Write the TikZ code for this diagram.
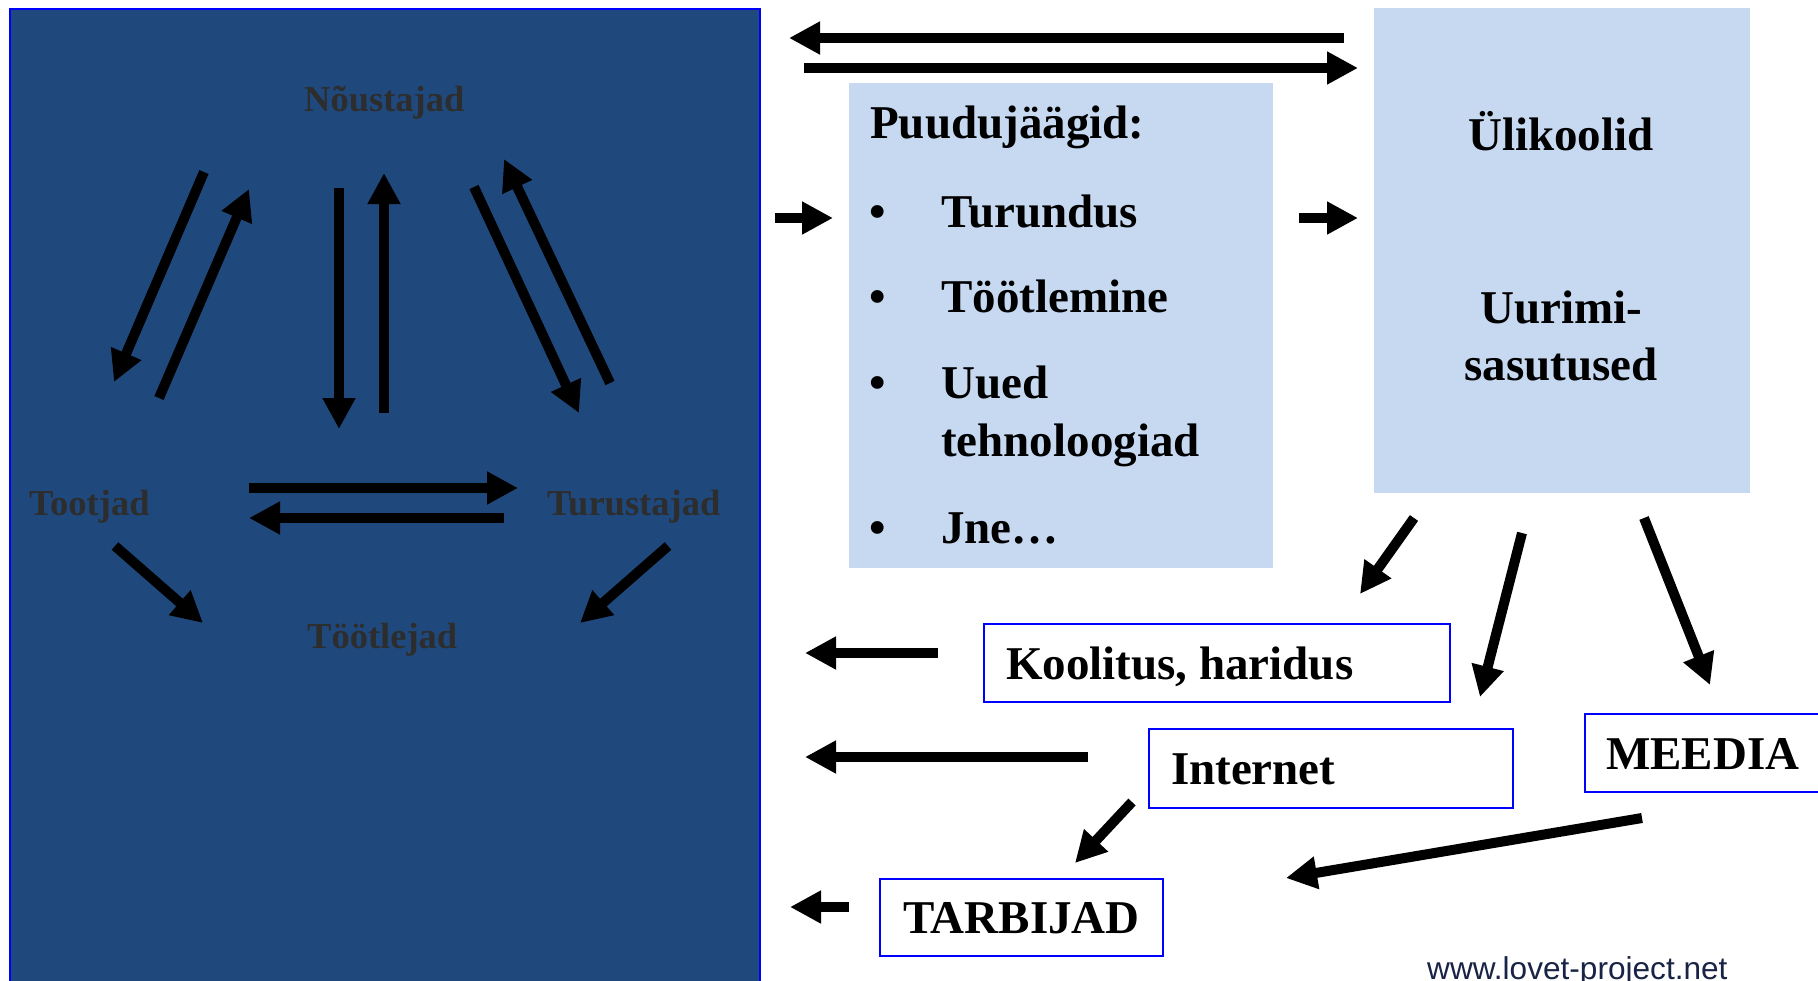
\documentclass[tikz,border=0pt]{standalone}
\usepackage{fontspec}
\setmainfont{Liberation Serif}
\newfontfamily\urlfont{Liberation Sans}
\usetikzlibrary{%
   arrows.meta,%
   positioning%
}
\definecolor{paneblue}{RGB}{31,73,125}
\definecolor{boxblue}{RGB}{198,217,241}
\definecolor{labelgray}{RGB}{45,45,45}
\definecolor{urlnavy}{RGB}{25,35,70}
\newcommand{\bigfont}{\fontsize{47}{56}\selectfont\bfseries}
\newcommand{\midfont}{\fontsize{36.5}{44}\selectfont\bfseries}
\frenchspacing

\begin{document}
\begin{tikzpicture}[x=1pt,y=-1pt,flow/.style={
	line width=10pt,
	-{Triangle[length=31pt,width=31pt]}
	},actor/.style={
	font=\midfont,text=labelgray,
	anchor=base west,inner sep=0pt
	},item/.style={
	font=\bigfont,anchor=base west,inner sep=0pt
	},lightbox/.style={
	fill=boxblue,inner sep=0pt,anchor=north west
	},framebox/.style={
	rectangle,draw=blue,line width=2pt,fill=white,
	font=\bigfont,anchor=north west,
	text height=32pt,text depth=0pt,
	inner xsep=22pt,inner ysep=0pt
	}
]
\useasboundingbox (0,0) rectangle (1818,980);

% left panel
\node (panel) [fill=paneblue,draw=blue,line width=2pt,inner sep=0pt,
	anchor=north west,minimum width=750pt,minimum height=990pt] at (9,8) {};
\node (noust) [actor] at (304,111) {Nõustajad};
\node (tootj) [actor] at (29,515) {Tootjad};
\node (turust) [actor] at (547,515) {Turustajad};
\node (tootl) [actor] at (307,648) {Töötlejad};

% light boxes
\node (puud) [lightbox,minimum width=424pt,minimum height=485pt] at (849,83) {};
\node (ylik) [lightbox,minimum width=376pt,minimum height=485pt] at (1374,8) {};

\node (puudt) [item] at (870,138) {Puudujäägid:};
\foreach \y/\name/\txt in {227/turu/Turundus,312/tootle/Töötlemine,398/uued/Uued,543/jne/Jne…}{
	\node (b\name) [item] at (869,\y) {•};
	\node (\name) [item] at (941,\y) {\txt};
}
\node (tehno) [item] at (941,456) {tehnoloogiad};

\node (ylikt) [item,anchor=base] at (1561,150) {Ülikoolid};
\node (uuri) [item,anchor=base] at (1561,323) {Uurimi-};
\node (sasu) [item,anchor=base] at (1561,380) {sasutused};

% framed boxes
\node (kool) [framebox,text width=422pt,align=flush left,minimum height=78pt] at (983,623) {Koolitus, haridus};
\node (inter) [framebox,text width=320pt,align=flush left,minimum height=79pt] at (1148,728) {Internet};
\node (meed) [framebox,text width=218pt,align=flush left,minimum height=78pt,inner xsep=21pt] at (1584,713) {MEEDIA};
\node (tarb) [framebox,minimum width=283pt,minimum height=77pt] at (879,878) {TARBIJAD};

\node (web) [font=\urlfont\fontsize{31.6}{36}\selectfont,text=urlnavy,
	anchor=base west,inner sep=0pt] at (1427,979) {www.lovet-project.net};

%(x,y) arrow ends, panel
\coordinate (nA1) at (204,172); \coordinate (nA2) at (114,382);
\coordinate (nB1) at (159,398); \coordinate (nB2) at (249,189);
\coordinate (nC1) at (339,188); \coordinate (nC2) at (339,429);
\coordinate (nD1) at (384,413); \coordinate (nD2) at (384,173);
\coordinate (nE1) at (474,187); \coordinate (nE2) at (579,413);
\coordinate (nF1) at (610,383); \coordinate (nF2) at (504,159);
\coordinate (nG1) at (249,488); \coordinate (nG2) at (518,488);
\coordinate (nH1) at (504,518); \coordinate (nH2) at (249,518);
\coordinate (nI1) at (115,546); \coordinate (nI2) at (203,623);
\coordinate (nJ1) at (668,546); \coordinate (nJ2) at (580,623);
%(x,y) arrow ends, right side
\coordinate (tL1) at (1344,38); \coordinate (tL2) at (789,38);
\coordinate (tR1) at (804,68); \coordinate (tR2) at (1358,68);
\coordinate (sA1) at (775,218); \coordinate (sA2) at (833,218);
\coordinate (sB1) at (1299,218); \coordinate (sB2) at (1358,218);
\coordinate (lA1) at (938,653); \coordinate (lA2) at (805,653);
\coordinate (lB1) at (1088,757); \coordinate (lB2) at (805,757);
\coordinate (lC1) at (849,907); \coordinate (lC2) at (790,907);
\coordinate (dA1) at (1414,518); \coordinate (dA2) at (1360,594);
\coordinate (dB1) at (1522,533); \coordinate (dB2) at (1480,697);
\coordinate (dC1) at (1644,518); \coordinate (dC2) at (1710,685);
\coordinate (dD1) at (1132,802); \coordinate (dD2) at (1075,863);
\coordinate (dE1) at (1642,818); \coordinate (dE2) at (1286,878);

\foreach \a in {nA,nB,nC,nD,nE,nF,nG,nH,nI,nJ,tL,tR,sA,sB,lA,lB,lC,dA,dB,dC,dD,dE}
	\draw[flow] (\a1) -- (\a2);

\end{tikzpicture}
\end{document}
